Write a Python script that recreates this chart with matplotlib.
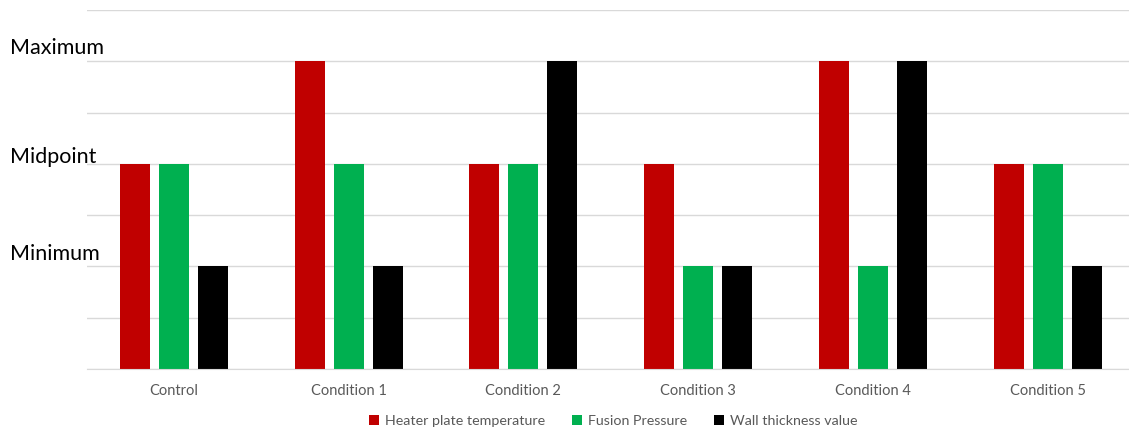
import numpy as np
import matplotlib.pyplot as plt

plt.rcParams['font.family'] = ['Lato', 'DejaVu Sans']

categories = ['Control', 'Condition 1', 'Condition 2', 'Condition 3', 'Condition 4', 'Condition 5']
series_names = ['Heater plate temperature', 'Fusion Pressure', 'Wall thickness value']
heater = [2, 3, 2, 2, 3, 2]
pressure = [2, 2, 2, 1, 1, 2]
wall = [1, 1, 3, 1, 3, 1]
level_names = ['Minimum', 'Midpoint', 'Maximum']
level_values = [1, 2, 3]

colors = ['#c00000', '#00b050', '#000000']

fig = plt.figure(figsize=(11.29, 4.30), dpi=100)
ax = fig.add_axes([86.5 / 1129, 61 / 430, 1048.5 / 1129, 359 / 430])

x = np.arange(len(categories))
width = 0.172
step = 0.223
for i, (vals, name) in enumerate(zip([heater, pressure, wall], series_names)):
    ax.bar(x + (i - 1) * step, vals, width, color=colors[i], label=name, zorder=3)

ax.set_xlim(-0.5, len(categories) - 0.5)
ax.set_ylim(0, 3.5)
ax.set_yticks(np.arange(0, 3.51, 0.5))
ax.yaxis.grid(True, color='#d9d9d9', linewidth=1)
ax.tick_params(axis='y', left=False, labelleft=False)
ax.tick_params(axis='x', length=0, pad=11, labelsize=10.5, labelcolor='#595959')
ax.set_xticks(x)
ax.set_xticklabels(categories)
for side in ['top', 'right', 'left']:
    ax.spines[side].set_visible(False)
ax.spines['bottom'].set_color('#d9d9d9')
ax.spines['bottom'].set_zorder(4)

# level names sit just above their gridlines on the left (text box offsets in px)
label_offsets = [12, 7, 13]
for name, v, off in zip(level_names, level_values, label_offsets):
    y_disp = ax.transData.transform((0, v))[1]
    y_fig = fig.transFigure.inverted().transform((0, y_disp))[1]
    fig.text(10 / 1129, y_fig + off / 430, name, fontsize=15.5, va='center', ha='left', color='#000000')

fig.legend(loc='lower center', bbox_to_anchor=(0.543, -0.022), ncol=3, frameon=False,
           fontsize=10.3, labelcolor='#595959', handlelength=0.7, handleheight=0.7,
           handletextpad=0.4, columnspacing=1.9)

fig.savefig('out.png', dpi=100)
